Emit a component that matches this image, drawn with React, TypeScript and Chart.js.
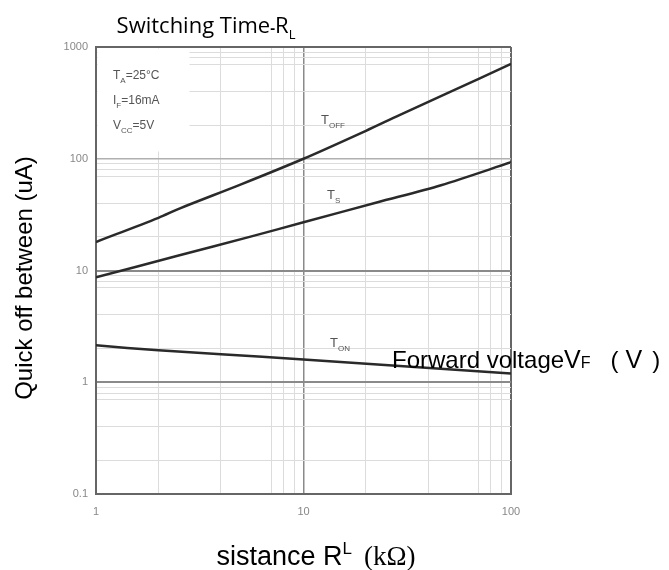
import React, { useEffect, useRef } from "react";
import { Chart, registerables } from "chart.js";

Chart.register(...registerables);

// ---- data ----
const tOffX = [1, 2, 2.54, 5, 10, 20, 29, 50, 100];
const tOffY = [18, 29.6, 36, 59, 100, 178, 246, 390, 705];
const tSX = [1, 2.5, 5.5, 10, 23, 46, 100];
const tSY = [8.7, 13.6, 20, 27, 41, 58, 93];
const tOnX = [1, 2, 4, 10, 100];
const tOnY = [2.14, 1.93, 1.78, 1.6, 1.2];

const xTickLabels = ["1", "10", "100"];
const yTickLabels = ["0.1", "1", "10", "100", "1000"];
const gridMantissas = [1, 2, 4, 7, 8, 9];

type Run = { t: string; f: string; dy?: number; gap?: number };

function drawRuns(ctx: CanvasRenderingContext2D, runs: Run[], x: number, y: number, align: "left" | "center") {
  let total = 0;
  for (const r of runs) {
    ctx.font = r.f;
    total += ctx.measureText(r.t).width + (r.gap || 0);
  }
  let cx = align === "center" ? x - total / 2 : x;
  ctx.textAlign = "left";
  ctx.textBaseline = "alphabetic";
  for (const r of runs) {
    ctx.font = r.f;
    cx += r.gap || 0;
    ctx.fillText(r.t, cx, y + (r.dy || 0));
    cx += ctx.measureText(r.t).width;
  }
}

const mant = (v: number) => {
  const e = Math.floor(Math.log10(v) + 1e-9);
  return Math.round((v / Math.pow(10, e)) * 1000) / 1000;
};
const isPow10 = (v: number) => Math.abs(mant(v) - 1) < 1e-6;

const overlay = {
  id: "overlay",
  beforeDatasetsDraw(chart: any) {
    const { ctx, chartArea } = chart;
    ctx.save();
    ctx.fillStyle = "#fff";
    ctx.fillRect(chartArea.left + 1.5, chartArea.top + 1.5, 188 - chartArea.left, 150 - chartArea.top);
    ctx.restore();
  },
  afterDraw(chart: any) {
    const ctx: CanvasRenderingContext2D = chart.ctx;
    ctx.save();
    // title
    ctx.fillStyle = "#000";
    drawRuns(ctx, [
      { t: "Switching Time", f: "22px 'Open Sans'" },
      { t: "-", f: "bold 15px 'Open Sans'" },
      { t: "R", f: "22px 'Open Sans'" },
      { t: "L", f: "13px 'Open Sans'", dy: 6 },
    ], 206, 33, "center");

    // y title
    ctx.save();
    ctx.translate(32, 278);
    ctx.rotate(-Math.PI / 2);
    drawRuns(ctx, [{ t: "Quick off between (uA)", f: "24px 'Liberation Sans'" }], 0, 0, "center");
    ctx.restore();

    // x title
    drawRuns(ctx, [
      { t: "sistance R", f: "27px 'Liberation Sans'" },
      { t: "L", f: "17px 'Liberation Sans'", dy: -11 },
      { t: "(", f: "27px 'Liberation Serif'", gap: 12 },
      { t: "k\u03A9)", f: "27px 'Liberation Serif'" },
    ], 316, 565, "center");

    // forward voltage text
    drawRuns(ctx, [
      { t: "Forward voltage", f: "24px 'Liberation Sans'" },
      { t: "V", f: "25px 'Liberation Sans'" },
      { t: "F", f: "16px 'Liberation Sans'" },
      { t: "(", f: "24px 'Liberation Sans'", gap: 20 },
      { t: "V", f: "25px 'Liberation Sans'", gap: 7 },
      { t: ")", f: "24px 'Liberation Sans'", gap: 10 },
    ], 392, 368, "left");

    // conditions
    ctx.fillStyle = "#555";
    const small = "12px 'Liberation Sans Narrow', 'Liberation Sans'";
    const sub = "8px 'Liberation Sans'";
    drawRuns(ctx, [{ t: "T", f: small }, { t: "A", f: sub, dy: 4 }, { t: "=25\u00B0C", f: small }], 113, 79, "left");
    drawRuns(ctx, [{ t: "I", f: small }, { t: "F", f: sub, dy: 4 }, { t: "=16mA", f: small }], 113, 104, "left");
    drawRuns(ctx, [{ t: "V", f: small }, { t: "CC", f: sub, dy: 4 }, { t: "=5V", f: small }], 113, 129, "left");

    // curve labels
    const lab = "13px 'Liberation Sans'";
    drawRuns(ctx, [{ t: "T", f: lab }, { t: "OFF", f: sub, dy: 4 }], 321, 124, "left");
    drawRuns(ctx, [{ t: "T", f: lab }, { t: "S", f: sub, dy: 4 }], 327, 199, "left");
    drawRuns(ctx, [{ t: "T", f: lab }, { t: "ON", f: sub, dy: 4 }], 330, 347, "left");
    ctx.restore();
  },
};

export default function App() {
  const ref = useRef<HTMLCanvasElement | null>(null);
  useEffect(() => {
    if (!ref.current) return;
    const mk = (xs: number[], ys: number[]) => xs.map((x, i) => ({ x, y: ys[i] }));
    const lineStyle = {
      borderColor: "#2a2a2a",
      borderWidth: 2.5,
      pointRadius: 0,
      tension: 0.3,
      fill: false,
    };
    const chart = new Chart(ref.current, {
      type: "line",
      data: {
        datasets: [
          { label: "TOFF", data: mk(tOffX, tOffY), ...lineStyle },
          { label: "TS", data: mk(tSX, tSY), ...lineStyle },
          { label: "TON", data: mk(tOnX, tOnY), ...lineStyle },
        ],
      },
      options: {
        animation: false,
        responsive: true,
        maintainAspectRatio: false,
        layout: { padding: { left: 0, right: 158, top: 47, bottom: 0 } },
        plugins: { legend: { display: false }, tooltip: { enabled: false }, title: { display: false } },
        scales: {
          x: {
            type: "logarithmic",
            min: 1,
            max: 100,
            afterFit: (s: any) => { s.height = 76; },
            border: { color: "#666", width: 2 },
            grid: {
              color: (c: any) => {
                const v = c.tick?.value;
                if (v == null) return "transparent";
                if (v === 10) return "#8a8a8a";
                if (v === 100 || v === 1) return "#666";
                return gridMantissas.includes(mant(v)) ? "#dcdcdc" : "transparent";
              },
              lineWidth: (c: any) => (c.tick?.value === 10 ? 1.5 : c.tick?.value === 100 ? 2 : 1),
              drawTicks: false,
            },
            ticks: {
              autoSkip: false,
              maxRotation: 0,
              padding: 11,
              color: "#888",
              font: { family: "'Liberation Sans'", size: 11 },
              callback: (value: any) => {
                const v = Number(value);
                if (!isPow10(v)) return "";
                const idx = Math.round(Math.log10(v));
                return xTickLabels[idx] ?? "";
              },
            },
          },
          y: {
            type: "logarithmic",
            min: 0.1,
            max: 1000,
            afterFit: (s: any) => { s.width = 96; },
            border: { color: "#666", width: 2 },
            grid: {
              color: (c: any) => {
                const v = c.tick?.value;
                if (v == null) return "transparent";
                if (v === 10 || v === 1) return "#8a8a8a";
                if (v === 100) return "#b0b0b0";
                if (v === 1000) return "#666";
                return gridMantissas.includes(mant(v)) ? "#dcdcdc" : "transparent";
              },
              lineWidth: (c: any) => {
                const v = c.tick?.value;
                if (v === 10 || v === 1) return 2;
                if (v === 1000) return 2;
                if (v === 100) return 1.5;
                return 1;
              },
              drawTicks: false,
            },
            ticks: {
              autoSkip: false,
              padding: 8,
              color: "#888",
              font: { family: "'Liberation Sans'", size: 11 },
              callback: (value: any) => {
                const v = Number(value);
                if (!isPow10(v)) return "";
                const idx = Math.round(Math.log10(v)) + 1;
                return yTickLabels[idx] ?? "";
              },
            },
          },
        },
      },
      plugins: [overlay],
    });
    return () => chart.destroy();
  }, []);
  return (
    <div style={{ position: "absolute", left: 0, top: 0, width: 669, height: 570, background: "#fff" }}>
      <canvas ref={ref} />
    </div>
  );
}
